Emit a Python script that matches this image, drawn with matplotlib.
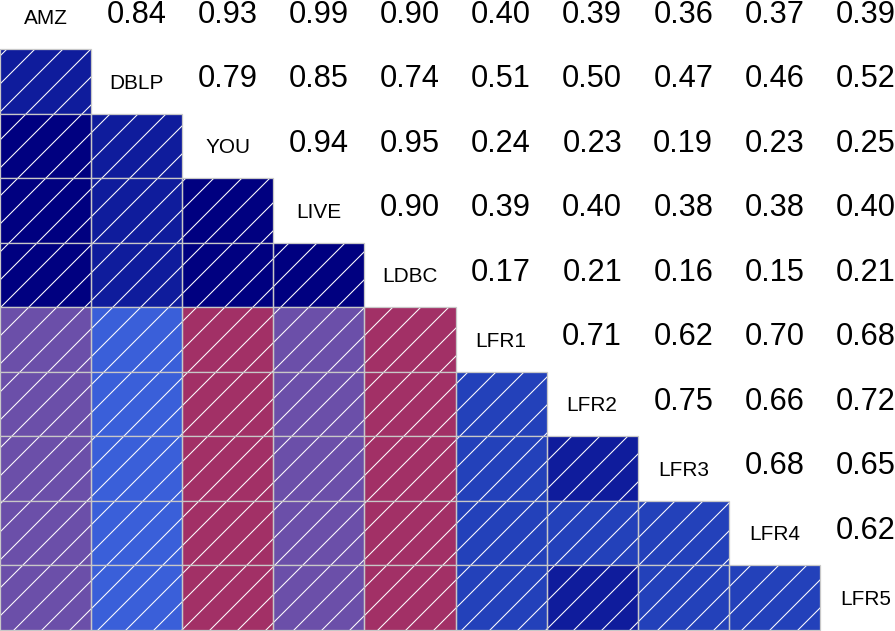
import numpy as np
import matplotlib
matplotlib.use('Agg')
import matplotlib.pyplot as plt
from matplotlib.colors import ListedColormap, BoundaryNorm

names = ['AMZ', 'DBLP', 'YOU', 'LIVE', 'LDBC', 'LFR1', 'LFR2', 'LFR3', 'LFR4', 'LFR5']

# upper triangle, row i holds the values for columns i+1 .. 9
upper = [
    [0.84, 0.93, 0.99, 0.90, 0.40, 0.39, 0.36, 0.37, 0.39],
    [0.79, 0.85, 0.74, 0.51, 0.50, 0.47, 0.46, 0.52],
    [0.94, 0.95, 0.24, 0.23, 0.19, 0.23, 0.25],
    [0.90, 0.39, 0.40, 0.38, 0.38, 0.40],
    [0.17, 0.21, 0.16, 0.15, 0.21],
    [0.71, 0.62, 0.70, 0.68],
    [0.75, 0.66, 0.72],
    [0.68, 0.65],
    [0.62],
]

bounds = [0.0, 0.30, 0.43, 0.56, 0.715, 0.875, 1.0]
colors = ['#a23066', '#6b4fa9', '#3a5fd9', '#2341ba', '#0f1c9c', '#000080']

n = len(names)
mat = np.eye(n)
for i, row in enumerate(upper):
    for k, v in enumerate(row):
        mat[i, i + 1 + k] = v
        mat[i + 1 + k, i] = v

cmap = ListedColormap(colors)
norm = BoundaryNorm(bounds, cmap.N)

dpi = 168
W, H = 895, 631
colw, rowh = 91.1, 64.5
top = 15.3

plt.rcParams['font.family'] = ['Liberation Sans', 'DejaVu Sans']
plt.rcParams['hatch.color'] = 'white'
plt.rcParams['hatch.linewidth'] = 0.45

fig = plt.figure(figsize=(W / dpi, H / dpi), dpi=dpi)
ax = fig.add_axes([0, 0, 1, 1])
ax.set_xlim(0, W / colw)
ax.set_ylim(top / rowh + H / rowh, top / rowh)
ax.axis('off')

for i in range(1, n):
    xs = np.arange(i) + 0.5
    vals = mat[i, :i]
    ax.bar(xs, 1, bottom=i, width=1, color=cmap(norm(vals)),
           hatch='//', linewidth=0)
    ax.bar(xs, 1, bottom=i, width=1, fill=False,
           edgecolor='#c8c8c8', linewidth=0.55)

num_dy = 6.0 / rowh
lab_dy = 7.5 / rowh
for i in range(n):
    ax.text(i + 0.5, i + 0.5 + lab_dy, names[i], ha='center', va='baseline',
            fontsize=8.9, color='black')
    for j in range(i + 1, n):
        ax.text(j + 0.5, i + 0.5 + num_dy, '%.2f' % mat[i, j], ha='center',
                va='baseline', fontsize=13.2, color='black')

fig.savefig('out.png', dpi=dpi)
